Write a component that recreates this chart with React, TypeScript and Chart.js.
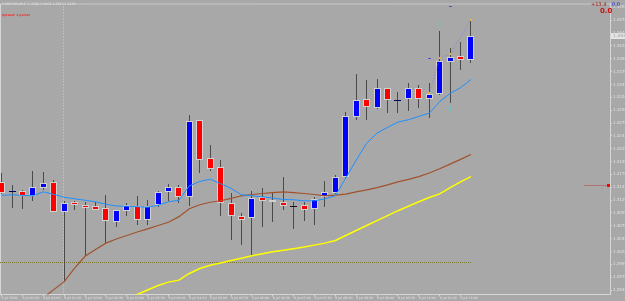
import React, { useEffect, useRef } from 'react';
import { Chart, registerables } from 'chart.js';
Chart.register(...registerables);

// ---- data ----
const open = [1.31554,1.31351,1.31380,1.31284,1.31428,1.31554,1.30965,1.31158,1.31110,1.31081,
  1.31042,1.30772,1.30984,1.31091,1.30820,1.31100,1.31351,1.31448,1.31255,1.32750,
  1.32027,1.31843,1.31139,1.30888,1.30849,1.31255,1.31206,1.31158,1.31081,1.31100,
  1.31023,1.31255,1.31332,1.31641,1.32818,1.33165,1.32992,1.33378,1.33146,1.33165,
  1.33378,1.33165,1.33262,1.33889,1.34005,1.33918];
const high = [1.31727,1.31496,1.31399,1.31766,1.31747,1.31583,1.31187,1.31187,1.31158,1.31158,
  1.31293,1.31013,1.31139,1.31284,1.31197,1.31380,1.31505,1.31496,1.32847,1.32760,
  1.32268,1.31978,1.31332,1.30955,1.31380,1.31428,1.31341,1.31641,1.31168,1.31168,
  1.31264,1.31563,1.31698,1.32924,1.33648,1.33532,1.33551,1.33387,1.33300,1.33484,
  1.33435,1.33484,1.34497,1.34159,1.34285,1.34690];
const low = [1.31322,1.31042,1.31033,1.31187,1.31399,1.30965,1.29614,1.31004,1.30106,1.31004,
  1.30367,1.30676,1.30898,1.30714,1.30714,1.31062,1.31187,1.31139,1.31091,1.31718,
  1.31776,1.30898,1.30425,1.30328,1.30106,1.30685,1.30772,1.31004,1.30637,1.30791,
  1.30724,1.31062,1.31322,1.31631,1.32760,1.32760,1.32982,1.32895,1.32895,1.32934,
  1.33001,1.32799,1.33252,1.33088,1.33725,1.33870];
const close = [1.31341,1.31380,1.31274,1.31448,1.31534,1.30975,1.31139,1.31110,1.31042,1.31013,
  1.30791,1.31004,1.31100,1.30820,1.31091,1.31351,1.31448,1.31255,1.32741,1.31988,
  1.31814,1.31139,1.30888,1.30820,1.31235,1.31187,1.31158,1.31081,1.31081,1.31004,
  1.31216,1.31361,1.31641,1.32837,1.33146,1.33011,1.33378,1.33146,1.33156,1.33378,
  1.33165,1.33271,1.33899,1.33986,1.33918,1.34391];

const maFast = [1.31293,1.31303,1.31293,1.31284,1.31361,1.31312,1.31255,1.31226,1.31197,1.31168,
  1.31119,1.31085,1.31081,1.31071,1.31062,1.31100,1.31168,1.31197,1.31477,1.31563,
  1.31606,1.31521,1.31428,1.31303,1.31284,1.31264,1.31239,1.31212,1.31206,1.31187,
  1.31187,1.31226,1.31284,1.31631,1.31978,1.32306,1.32505,1.32615,1.32718,1.32764,
  1.32828,1.32891,1.33117,1.33277,1.33387,1.33547];
const maMid = [null,null,null,null,1.29296,1.29458,1.29614,1.29875,1.30106,1.30241,
  1.30363,1.30444,1.30512,1.30579,1.30641,1.30705,1.30768,1.30878,1.31033,1.31110,
  1.31158,1.31187,1.31235,1.31284,1.31309,1.31328,1.31347,1.31361,1.31347,1.31328,
  1.31309,1.31284,1.31297,1.31316,1.31361,1.31399,1.31444,1.31496,1.31554,1.31602,
  1.31656,1.31727,1.31810,1.31901,1.31992,1.32088];
const maSlow = [null,null,null,null,null,null,null,null,null,null,
  null,null,1.29257,1.29363,1.29450,1.29537,1.29604,1.29643,1.29772,1.29869,
  1.29933,1.29977,1.30023,1.30068,1.30116,1.30158,1.30193,1.30222,1.30255,1.30286,
  1.30324,1.30363,1.30415,1.30512,1.30608,1.30705,1.30801,1.30898,1.30994,1.31081,
  1.31168,1.31251,1.31322,1.31444,1.31554,1.31656];

const priceTicks = [1.3495,1.3470,1.3445,1.3420,1.3395,1.3370,1.3345,1.3320,1.3295,1.3270,
  1.3245,1.3220,1.3195,1.3170,1.3145,1.3120,1.3095,1.3070,1.3045,1.3020,1.2995,1.2970,1.2945];
const timeTickIndex = [0,2,4,6,8,10,12,14,16,18,20,22,24,26,28,30,32,34,36,38,40,42,44];
const timeLabels = ["9 Jul 2020","9 Jul 00:30","9 Jul 01:00","9 Jul 01:30","9 Jul 02:00","9 Jul 02:30",
  "9 Jul 03:00","9 Jul 03:30","9 Jul 04:00","9 Jul 04:30","9 Jul 05:00","9 Jul 05:30","9 Jul 06:00",
  "9 Jul 06:30","9 Jul 07:00","9 Jul 07:30","9 Jul 08:00","9 Jul 08:30","9 Jul 09:00","9 Jul 09:30",
  "9 Jul 10:00","9 Jul 10:30","9 Jul 11:00"];

const symbolTitle = "\u25BE GBPUSD,M15";
const spreadText = "Spread: 1 points";
const levelPrice = 1.29985;
const levelEndIndex = 45;
const separatorIndex = 5.92;
const alertPrice = 1.31477;
const alertStartIndex = 55.9;
const zigzagIndex = [41, 42, 43, 45];
const zigzagPrice = [1.33277, 1.33966, 1.34038, 1.34713];
const waveLabels = ["1", "2"];
const waveIndex = [42, 43];
const wavePrice = [1.34622, 1.32957];
const dashIndex = [43, 41];
const dashPrice = [1.34970, 1.33966];

const X_MIN = -0.153, X_MAX = 58.33;
const Y_MIN = 1.29363, Y_MAX = 1.35028;

const BG = '#A8A8A8';
const AXIS = '#D6D6D6';
const FONT = 'DejaVu Sans';

const overlay = {
  id: 'overlay',
  beforeDraw(chart: any) {
    const ctx = chart.ctx;
    ctx.save();
    ctx.fillStyle = BG;
    ctx.fillRect(0, 0, chart.width, chart.height);
    ctx.restore();
  },
  beforeDatasetsDraw(chart: any) {
    const { ctx, chartArea: a, scales } = chart;
    const x = scales.x, y = scales.y;
    ctx.save();
    ctx.beginPath();
    ctx.rect(a.left, a.top, a.right - a.left, a.bottom - a.top);
    ctx.clip();
    ctx.strokeStyle = AXIS;
    ctx.lineWidth = 1;
    ctx.beginPath();
    ctx.moveTo(a.left + 0.5, a.bottom);
    ctx.lineTo(a.left + 0.5, a.top + 0.5);
    ctx.lineTo(a.right, a.top + 0.5);
    ctx.stroke();
    const sx = Math.floor(x.getPixelForValue(separatorIndex)) + 0.5;
    ctx.setLineDash([1, 2]);
    ctx.strokeStyle = '#D0D0D0';
    ctx.beginPath();
    ctx.moveTo(sx, a.top);
    ctx.lineTo(sx, a.bottom);
    ctx.stroke();
    const ly = Math.floor(y.getPixelForValue(levelPrice)) + 0.5;
    ctx.strokeStyle = '#7A7A2A';
    ctx.setLineDash([1, 1]);
    ctx.beginPath();
    ctx.moveTo(a.left, ly);
    ctx.lineTo(x.getPixelForValue(levelEndIndex), ly);
    ctx.stroke();
    ctx.setLineDash([]);
    for (let i = 0; i < open.length; i++) {
      const cx = Math.floor(x.getPixelForValue(i));
      const yO = y.getPixelForValue(open[i]);
      const yC = y.getPixelForValue(close[i]);
      const yH = y.getPixelForValue(high[i]);
      const yL = y.getPixelForValue(low[i]);
      const bull = close[i] >= open[i];
      ctx.strokeStyle = '#4A4A4A';
      ctx.lineWidth = 1;
      ctx.beginPath();
      ctx.moveTo(cx + 0.5, Math.round(yH));
      ctx.lineTo(cx + 0.5, Math.round(yL));
      ctx.stroke();
      const top = Math.round(Math.min(yO, yC));
      const bot = Math.round(Math.max(yO, yC));
      const left = cx - 3;
      const w = 7;
      if (bot - top < 2) {
        ctx.fillStyle = close[i] === open[i] ? '#111111' : (bull ? '#00006A' : '#6A0000');
        ctx.fillRect(left, top, w, Math.max(1, bot - top));
      } else {
        ctx.fillStyle = bull ? '#0000FF' : '#FF0000';
        ctx.fillRect(left, top, w, bot - top);
        ctx.strokeStyle = '#D2D2D2';
        ctx.strokeRect(left + 0.5, top + 0.5, w - 1, bot - top - 1);
      }
    }
    ctx.restore();
  },
  afterDatasetsDraw(chart: any) {
    const { ctx, chartArea: a, scales } = chart;
    const x = scales.x, y = scales.y;
    ctx.save();
    ctx.strokeStyle = '#7C7CE8';
    ctx.lineWidth = 1;
    ctx.setLineDash([1, 2]);
    ctx.beginPath();
    zigzagIndex.forEach((v, k) => {
      const px = x.getPixelForValue(v), py = y.getPixelForValue(zigzagPrice[k]);
      if (k === 0) ctx.moveTo(px, py); else ctx.lineTo(px, py);
    });
    ctx.stroke();
    ctx.setLineDash([]);
    ctx.fillStyle = '#F0B040';
    zigzagIndex.forEach((v, k) => {
      const px = x.getPixelForValue(v), py = y.getPixelForValue(zigzagPrice[k]);
      ctx.fillRect(Math.round(px) - 1, Math.round(py) - 1, 2, 2);
    });
    ctx.fillStyle = '#5050D0';
    dashIndex.forEach((v, k) => {
      const px = x.getPixelForValue(v), py = y.getPixelForValue(dashPrice[k]);
      ctx.fillRect(Math.round(px) - 1, Math.round(py), 3, 1);
    });
    ctx.fillStyle = '#30D8E0';
    ctx.font = `6px ${FONT}`;
    ctx.textAlign = 'center';
    ctx.textBaseline = 'middle';
    waveLabels.forEach((t, k) => {
      ctx.fillText(t, x.getPixelForValue(waveIndex[k]), y.getPixelForValue(wavePrice[k]));
    });
    const ay = Math.floor(y.getPixelForValue(alertPrice)) + 0.5;
    ctx.strokeStyle = '#E03030';
    ctx.setLineDash([1, 1]);
    ctx.beginPath();
    ctx.moveTo(x.getPixelForValue(alertStartIndex), ay);
    ctx.lineTo(a.right - 1, ay);
    ctx.stroke();
    ctx.setLineDash([]);
    ctx.fillStyle = '#FF0000';
    ctx.fillRect(a.right - 3, ay - 1.5, 3, 3);
    const cy = Math.round(y.getPixelForValue(close[close.length - 1]));
    ctx.fillStyle = '#E4E4E4';
    ctx.fillRect(a.right + 1, cy - 3, chart.width - a.right - 1, 6);
    ctx.fillStyle = '#9A9A9A';
    ctx.font = `4.5px ${FONT}`;
    ctx.textAlign = 'left';
    ctx.textBaseline = 'middle';
    ctx.fillText(close[close.length - 1].toFixed(4), a.right + 3, cy);
    ctx.fillStyle = '#E2E2E2';
    ctx.font = `3.2px ${FONT}`;
    const n = close.length - 1;
    ctx.fillText(`${symbolTitle}  ${open[n].toFixed(4)} ${high[n].toFixed(4)} ${low[n].toFixed(4)} ${close[n].toFixed(4)}`, 2, 4);
    ctx.fillStyle = '#F03030';
    ctx.font = `bold 3px ${FONT}`;
    ctx.fillText(spreadText, 2, 15);
    ctx.fillStyle = '#A01818';
    ctx.font = `5px ${FONT}`;
    ctx.fillText('+13.4', 591, 4.5);
    ctx.fillStyle = '#2020E0';
    ctx.fillText('0.0', 612, 4.5);
    ctx.fillStyle = '#D01010';
    ctx.font = `bold 7px ${FONT}`;
    ctx.fillText('0.0', 600, 11);
    ctx.restore();
  },
};

export default function App() {
  const ref = useRef<HTMLCanvasElement>(null);
  useEffect(() => {
    document.body.style.margin = '0';
    const mk = (arr: (number | null)[]) => arr.map((v, i) => ({ x: i, y: v }));
    const chart = new Chart(ref.current as HTMLCanvasElement, {
      type: 'line',
      data: {
        datasets: [
          { data: mk(maFast) as any, borderColor: '#1E90FF', borderWidth: 1, pointRadius: 0, tension: 0, spanGaps: false },
          { data: mk(maMid) as any, borderColor: '#A0522D', borderWidth: 1.2, pointRadius: 0, tension: 0, spanGaps: false },
          { data: mk(maSlow) as any, borderColor: '#FFFF00', borderWidth: 1.5, pointRadius: 0, tension: 0, spanGaps: false },
        ],
      },
      options: {
        animation: false,
        responsive: false,
        devicePixelRatio: 1,
        layout: { padding: { top: 1, left: 0, right: 0, bottom: 0 } },
        plugins: { legend: { display: false }, tooltip: { enabled: false } },
        scales: {
          x: {
            type: 'linear',
            position: 'bottom',
            min: X_MIN,
            max: X_MAX,
            bounds: 'data',
            afterBuildTicks: (s: any) => { s.ticks = timeTickIndex.map((v) => ({ value: v })); },
            afterFit: (s: any) => { s.height = 6.5; },
            grid: { drawOnChartArea: false, drawTicks: true, tickLength: 2, color: AXIS },
            border: { display: true, color: AXIS },
            ticks: {
              autoSkip: false, maxRotation: 0, minRotation: 0, align: 'start', padding: 0,
              color: '#E4E4E4', font: { size: 3.2, family: FONT },
              callback: (v: any) => { const k = timeTickIndex.indexOf(Number(v)); return k >= 0 ? timeLabels[k] : ''; },
            },
          },
          y: {
            type: 'linear',
            position: 'right',
            min: Y_MIN,
            max: Y_MAX,
            bounds: 'data',
            afterBuildTicks: (s: any) => { s.ticks = priceTicks.map((v) => ({ value: v })); },
            afterFit: (s: any) => { s.width = 15; },
            grid: { drawOnChartArea: false, drawTicks: true, tickLength: 2, color: AXIS },
            border: { display: true, color: AXIS },
            ticks: {
              autoSkip: false, padding: 1, color: '#E4E4E4', font: { size: 4, family: FONT },
              callback: (v: any) => Number(v).toFixed(4),
            },
          },
        },
      },
      plugins: [overlay],
    } as any);
    return () => chart.destroy();
  }, []);
  return (
    <div style={{ position: 'fixed', left: 0, top: 0, width: 625, height: 301 }}>
      <canvas ref={ref} width={625} height={301} style={{ width: 625, height: 301, display: 'block' }} />
    </div>
  );
}
